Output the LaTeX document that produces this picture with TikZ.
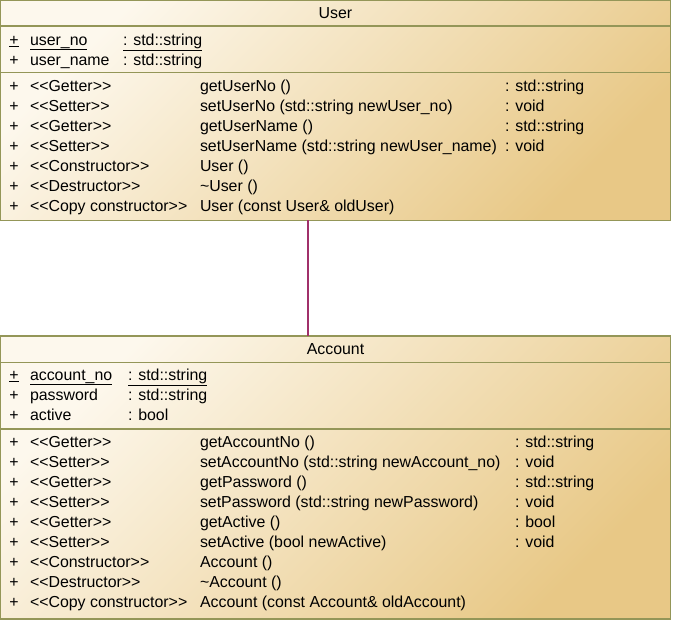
\documentclass[tikz,border=0pt]{standalone}
\usepackage{fontspec}
\setmainfont{Liberation Sans}
\definecolor{lightc}{RGB}{253,248,237}
\definecolor{darkc}{RGB}{232,200,134}
\definecolor{bordercol}{RGB}{148,150,88}
\definecolor{assoccol}{RGB}{160,48,106}
\newcommand{\umlfont}{\fontsize{15.9}{20}\selectfont}
\begin{document}
\begin{tikzpicture}[x=1pt,y=-1pt,
  classbox/.style={draw=bordercol, line width=1.3pt, top color=lightc, bottom color=darkc,
    shading angle=45, minimum width=669.5pt, anchor=north west, inner sep=0pt, outer sep=0pt},
  sepline/.style={draw=bordercol, line width=1.3pt},
  assoc/.style={draw=assoccol, line width=1.5pt},
  txt/.style={anchor=base west, inner sep=0pt, outer sep=0pt, font=\umlfont},
  ttl/.style={anchor=base, inner sep=0pt, outer sep=0pt, font=\umlfont}]
\useasboundingbox (0,0) rectangle (675,622);

% ---------- User ----------
\node[classbox, minimum height=219.5pt] (user) at (0.65,0.65) {};
\draw[sepline] (user.west |- 0,26) -- (user.east |- 0,26);
\draw[sepline] (user.west |- 0,72.5) -- (user.east |- 0,72.5);
\node[ttl] (usertitle) at (335.5,18.5) {User};
% attributes
\node[txt] (ua0p) at (9.3,45) {\underline{+}};
\node[txt] (ua0n) at (30,45) {\underline{user\_no}};
\node[txt] (ua0t) at (123,45) {\underline{: std::string}};
\node[txt] (ua1p) at (9.3,65) {+};
\node[txt] (ua1n) at (30,65) {user\_name};
\node[txt] (ua1t) at (123,65) {: std::string};
% operations
\foreach \st/\nm [count=\i from 0] in {
  Getter/getUserNo (),
  Setter/setUserNo (std::string newUser\_no),
  Getter/getUserName (),
  Setter/setUserName (std::string newUser\_name),
  Constructor/User (),
  Destructor/\textasciitilde{}User (),
  Copy constructor/User (const User\& oldUser)}{
  \node[txt] (uo\i p) at (9.3,{91+20*\i}) {+};
  \node[txt] (uo\i s) at (30,{91+20*\i}) {<{}<\st>{}>};
  \node[txt] (uo\i n) at (200,{91+20*\i}) {\nm};
}
\foreach \rt [count=\i from 0] in {: std::string, : void, : std::string, : void}{
  \node[txt] (uo\i r) at (505,{91+20*\i}) {\rt};
}

% ---------- Account ----------
\node[classbox, minimum height=283pt] (account) at (0.65,336) {};
\draw[sepline] (account.west |- 0,362.3) -- (account.east |- 0,362.3);
\draw[sepline] (account.west |- 0,429) -- (account.east |- 0,429);
\node[ttl] (accounttitle) at (335.5,354) {Account};
% attributes
\node[txt] (aa0p) at (9.3,380) {\underline{+}};
\node[txt] (aa0n) at (30,380) {\underline{account\_no}};
\node[txt] (aa0t) at (128,380) {\underline{: std::string}};
\node[txt] (aa1p) at (9.3,400) {+};
\node[txt] (aa1n) at (30,400) {password};
\node[txt] (aa1t) at (128,400) {: std::string};
\node[txt] (aa2p) at (9.3,420) {+};
\node[txt] (aa2n) at (30,420) {active};
\node[txt] (aa2t) at (128,420) {: bool};
% operations
\foreach \st/\nm [count=\i from 0] in {
  Getter/getAccountNo (),
  Setter/setAccountNo (std::string newAccount\_no),
  Getter/getPassword (),
  Setter/setPassword (std::string newPassword),
  Getter/getActive (),
  Setter/setActive (bool newActive),
  Constructor/Account (),
  Destructor/\textasciitilde{}Account (),
  Copy constructor/Account (const Account\& oldAccount)}{
  \node[txt] (ao\i p) at (9.3,{447+20*\i}) {+};
  \node[txt] (ao\i s) at (30,{447+20*\i}) {<{}<\st>{}>};
  \node[txt] (ao\i n) at (200,{447+20*\i}) {\nm};
}
\foreach \rt [count=\i from 0] in {: std::string, : void, : std::string, : void, : bool, : void}{
  \node[txt] (ao\i r) at (515,{447+20*\i}) {\rt};
}

% ---------- association ----------
\draw[assoc] ([xshift=-27.5pt]user.south) -- ([xshift=-27.5pt]account.north);
\end{tikzpicture}
\end{document}
